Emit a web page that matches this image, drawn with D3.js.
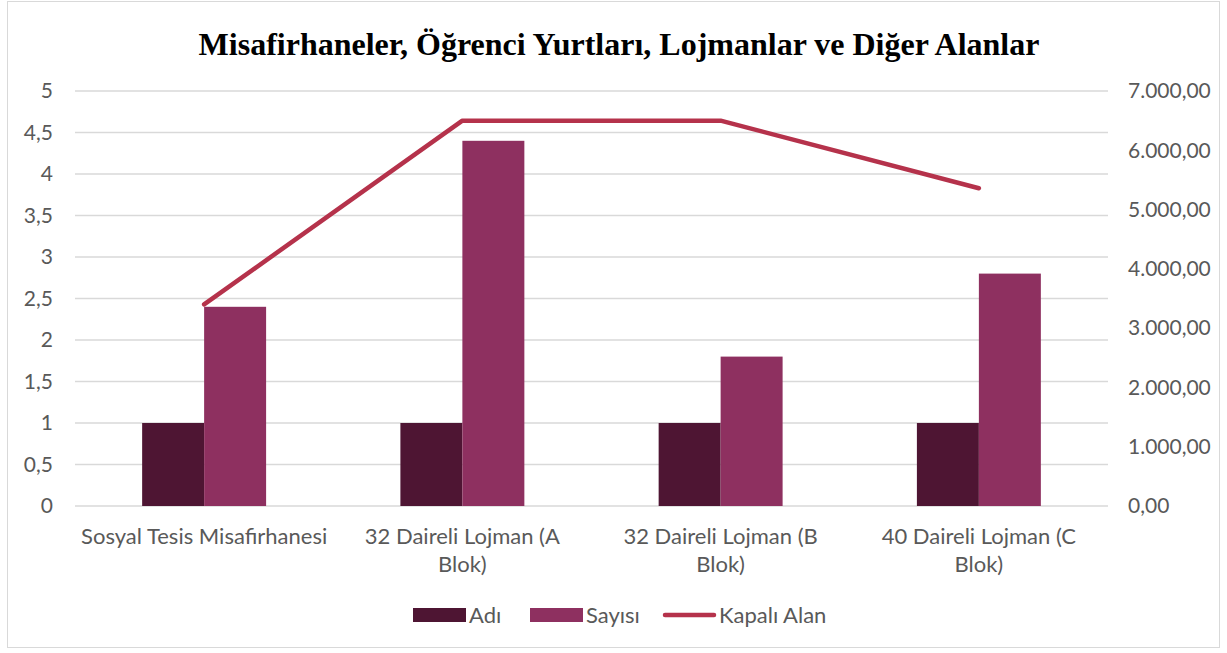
<!DOCTYPE html>
<html>
<head>
<meta charset="utf-8">
<script src="https://cdn.jsdelivr.net/npm/d3@7"></script>
<style>
  body { margin: 0; background: #fff; }
  svg text { font-family: Lato, "Noto Sans", sans-serif; fill: #595959; }
</style>
</head>
<body>
<svg width="1227" height="653"></svg>
<script>
var categories = ["Sosyal Tesis Misafirhanesi", "32 Daireli Lojman (A Blok)", "32 Daireli Lojman (B Blok)", "40 Daireli Lojman (C Blok)"];
var adi = [1, 1, 1, 1];
var sayisi = [2.4, 4.4, 1.8, 2.8];
var kapaliAlan = [3400, 6500, 6500, 5360];
var leftTicks = [0, 0.5, 1, 1.5, 2, 2.5, 3, 3.5, 4, 4.5, 5];
var rightTicks = [0, 1000, 2000, 3000, 4000, 5000, 6000, 7000];

var colors = { adi: "#4e1533", sayisi: "#8e3060", line: "#b5324b" };

var margin = { left: 75, right: 119, top: 91, bottom: 147 },
    width = 1227 - margin.left - margin.right,
    height = 653 - margin.top - margin.bottom;

var svg = d3.select("svg");

// outer border
svg.append("rect")
    .attr("x", 7.5).attr("y", 1.5)
    .attr("width", 1212).attr("height", 646)
    .attr("fill", "none")
    .attr("stroke", "#d9d9d9");

svg.append("text")
    .attr("x", 619).attr("y", 55)
    .attr("text-anchor", "middle")
    .style("font-family", "'Liberation Serif', 'Times New Roman', serif")
    .style("font-weight", "bold")
    .style("font-size", "32px")
    .style("fill", "#000")
    .text("Misafirhaneler, Öğrenci Yurtları, Lojmanlar ve Diğer Alanlar");

var g = svg.append("g")
    .attr("transform", "translate(" + margin.left + "," + margin.top + ")");

var x = d3.scaleBand().domain(categories).range([0, width]).padding(0);
var yL = d3.scaleLinear().domain([0, 5]).range([height, 0]);
var yR = d3.scaleLinear().domain([0, 7000]).range([height, 0]);

var groupW = x.bandwidth() * 0.48;
var x1 = d3.scaleBand().domain(["adi", "sayisi"]).range([0, groupW]);

// gridlines
g.append("g")
    .selectAll("line")
    .data(leftTicks)
    .join("line")
    .attr("x1", 0).attr("x2", width)
    .attr("y1", d => yL(d)).attr("y2", d => yL(d))
    .attr("stroke", "#d9d9d9")
    .attr("stroke-width", 1.3);

var fmtL = d => String(d).replace(".", ",");
var fmtR = d => d3.format(",.2f")(d).replace(/,/g, "#").replace(".", ",").replace(/#/g, ".");

var yAxisL = d3.axisLeft(yL).tickValues(leftTicks).tickFormat(fmtL).tickSize(0).tickPadding(22);
var yAxisR = d3.axisRight(yR).tickValues(rightTicks).tickFormat(fmtR).tickSize(0).tickPadding(20);

g.append("g").call(yAxisL).call(a => a.select(".domain").remove())
    .selectAll("text").style("font-size", "21px");
g.append("g").attr("transform", "translate(" + width + ",0)")
    .call(yAxisR).call(a => a.select(".domain").remove())
    .selectAll("text").style("font-size", "21px");

// bars
var groups = g.selectAll("g.cat")
    .data(categories)
    .join("g")
    .attr("class", "cat")
    .attr("transform", d => "translate(" + (x(d) + (x.bandwidth() - groupW) / 2) + ",0)");

groups.append("rect")
    .attr("x", x1("adi"))
    .attr("width", x1.bandwidth())
    .attr("y", (d, i) => yL(adi[i]))
    .attr("height", (d, i) => height - yL(adi[i]))
    .attr("fill", colors.adi);

groups.append("rect")
    .attr("x", x1("sayisi"))
    .attr("width", x1.bandwidth())
    .attr("y", (d, i) => yL(sayisi[i]))
    .attr("height", (d, i) => height - yL(sayisi[i]))
    .attr("fill", colors.sayisi);

// line on secondary axis
var lineGen = d3.line()
    .x((d, i) => x(categories[i]) + x.bandwidth() / 2)
    .y(d => yR(d));

g.append("path")
    .datum(kapaliAlan)
    .attr("d", lineGen)
    .attr("fill", "none")
    .attr("stroke", colors.line)
    .attr("stroke-width", 4.5)
    .attr("stroke-linecap", "round")
    .attr("stroke-linejoin", "round");

// category labels, wrapped
var catLines = [["Sosyal Tesis Misafirhanesi"], ["32 Daireli Lojman (A", "Blok)"], ["32 Daireli Lojman (B", "Blok)"], ["40 Daireli Lojman (C", "Blok)"]];
g.selectAll("text.cat")
    .data(categories)
    .join("text")
    .attr("class", "cat")
    .attr("x", d => x(d) + x.bandwidth() / 2)
    .attr("y", height + 38)
    .attr("text-anchor", "middle")
    .style("font-size", "22px")
    .each(function (d, i) {
        d3.select(this).selectAll("tspan")
            .data(catLines[i])
            .join("tspan")
            .attr("x", x(d) + x.bandwidth() / 2)
            .attr("dy", (t, j) => j === 0 ? 0 : 28)
            .text(t => t);
    });

// legend
var legend = [
    { name: "Adı", type: "rect", color: colors.adi, x: 413 },
    { name: "Sayısı", type: "rect", color: colors.sayisi, x: 530 },
    { name: "Kapalı Alan", type: "line", color: colors.line, x: 663 }
];
var lg = svg.append("g").selectAll("g").data(legend).join("g")
    .attr("transform", d => "translate(" + d.x + ",615)");
lg.filter(d => d.type === "rect").append("rect")
    .attr("x", 0).attr("y", -7).attr("width", 53).attr("height", 14)
    .attr("fill", d => d.color);
lg.filter(d => d.type === "line").append("line")
    .attr("x1", 2).attr("x2", 51).attr("y1", 0).attr("y2", 0)
    .attr("stroke", d => d.color).attr("stroke-width", 4.5)
    .attr("stroke-linecap", "round");
lg.append("text")
    .attr("x", 56).attr("y", 0).attr("dy", "0.35em")
    .style("font-size", "22px")
    .text(d => d.name);
</script>
</body>
</html>
